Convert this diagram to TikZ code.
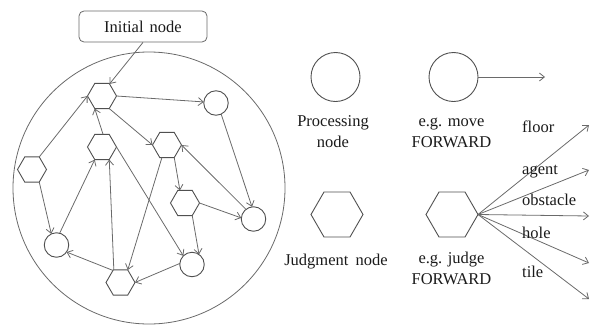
\documentclass[tikz,border=0pt]{standalone}
\usepackage{fontspec}
\setmainfont{Liberation Serif}
\usetikzlibrary{shapes.geometric,arrows.meta}
\definecolor{ln}{HTML}{6A6A6A}
\definecolor{hx}{HTML}{505050}
\definecolor{tx}{HTML}{1A1A1A}
\begin{document}
\begin{tikzpicture}[x=1pt,y=-1pt,
  hexn/.style={regular polygon,regular polygon sides=6,draw=hx,line width=0.9pt,inner sep=0pt,outer sep=0pt,minimum size=29pt},
  bighex/.style={hexn,minimum size=52pt},
  circn/.style={circle,draw=hx,line width=0.9pt,inner sep=0pt,outer sep=0pt,minimum size=24.5pt},
  bigcirc/.style={circn,minimum size=49pt},
  edge/.style={draw=ln,line width=0.8pt,-{Straight Barb[length=5pt,width=8pt]}},
  lbl/.style={font=\fontsize{16.5}{21}\selectfont,text=tx,inner sep=0pt,align=center},
]
\useasboundingbox (0,0) rectangle (593,324);
% big circle
\node[circle,draw=ln,line width=0.8pt,minimum size=272pt,inner sep=0pt] (big) at (149,188) {};
% initial node box
\node[lbl,draw=ln,line width=0.8pt,fill=white,rounded corners=5pt,minimum width=128pt,minimum height=31pt] (init) at (143,26.5) {Initial\hspace{2pt} node};
% graph nodes
\node[hexn] (h1) at (102,96) {};
\node[circn] (cA) at (216,103) {};
\node[hexn] (h2) at (102,147) {};
\node[hexn] (h3) at (167,145) {};
\node[hexn] (h4) at (32,169.5) {};
\node[hexn] (h5) at (185,203) {};
\node[circn] (cB) at (253.5,219) {};
\node[circn] (cC) at (56.5,245) {};
\node[circn] (cD) at (192,264.5) {};
\node[hexn] (h6) at (120.5,282.5) {};
% graph edges
\draw[edge] (init.south) -- (h1.58);
\draw[edge] (h1.0) -- (cA.175);
\draw[edge] (cA.-65) -- (cB.97);
\draw[edge] (h1.-60) -- (h3.180);
\draw[edge] (h4.60) -- (h1.180);
\draw[edge] (h4.-60) -- (cC.115);
\draw[edge] (cC.75) -- (h2.-120);
\draw[edge] (h2.85) -- (h1.-120);
\draw[edge] (h6.118) -- (h2.-60);
\draw[edge] (h2.0) -- (cD.135);
\draw[edge] (h3.-112) -- (h6.60);
\draw[edge] (h3.-60) -- (h5.112);
\draw[edge] (h5.0) -- (cB.175);
\draw[edge] (cB.128) -- (h3.0);
\draw[edge] (h5.-60) -- (cD.55);
\draw[edge] (cD.175) -- (h6.0);
\draw[edge] (h6.122) -- (cC.-35);
% legend
\node[bigcirc] (pc) at (335.5,77) {};
\node[bigcirc] (mc) at (453.5,77) {};
\coordinate (tm) at (545,77);
\draw[edge] (mc.east) -- (tm);
\node[lbl,anchor=base] (pclbl) at (333,147) {Processing\\node};
\node[lbl,anchor=base] (mclbl) at (451.5,147) {e.g. move\\FORWARD};
\node[bighex] (jh) at (337,214.5) {};
\node[bighex] (eh) at (452,214.5) {};
\node[lbl,anchor=base] (jhlbl) at (336,265) {Judgment\hspace{3pt} node};
\node[lbl,anchor=base] (ehlbl) at (451.5,284) {e.g. judge\\FORWARD};
\coordinate (t1) at (589,125);
\coordinate (t2) at (589,170);
\coordinate (t3) at (589,216);
\coordinate (t4) at (589,263);
\coordinate (t5) at (589,299);
\foreach \t in {t1,t2,t3,t4,t5} \draw[edge] (eh.0) -- (\t);
\node[lbl,anchor=base west] (lf) at (522,132) {floor};
\node[lbl,anchor=base west] (la) at (522,174) {agent};
\node[lbl,anchor=base west] (lo) at (522,205) {obstacle};
\node[lbl,anchor=base west] (lh) at (522,238) {hole};
\node[lbl,anchor=base west] (lt) at (522,277) {tile};
\end{tikzpicture}
\end{document}
